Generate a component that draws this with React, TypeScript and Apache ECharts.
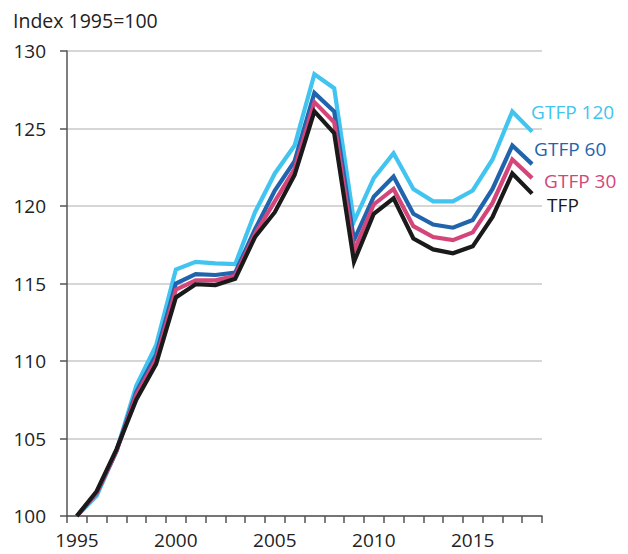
import React, { useEffect, useRef } from "react";
import * as echarts from "echarts";

const years = ["1995","1996","1997","1998","1999","2000","2001","2002","2003","2004","2005","2006","2007","2008","2009","2010","2011","2012","2013","2014","2015","2016","2017","2018"];
const gtfp120 = [100, 101.3, 104.2, 108.4, 111.0, 115.9, 116.4, 116.3, 116.25, 119.6, 122.1, 123.9, 128.5, 127.6, 119.0, 121.8, 123.4, 121.1, 120.3, 120.3, 121.0, 123.0, 126.1, 124.8];
const gtfp60 = [100, 101.5, 104.2, 108.0, 110.4, 115.0, 115.6, 115.55, 115.7, 118.5, 121.0, 122.9, 127.3, 126.1, 117.8, 120.6, 121.9, 119.5, 118.8, 118.6, 119.1, 121.1, 123.9, 122.7];
const gtfp30 = [100, 101.5, 104.2, 107.8, 110.1, 114.6, 115.2, 115.2, 115.5, 118.2, 120.3, 122.4, 126.7, 125.4, 117.1, 120.1, 121.1, 118.7, 118.0, 117.8, 118.3, 120.2, 123.0, 121.8];
const tfp = [100, 101.6, 104.3, 107.5, 109.8, 114.1, 114.95, 114.9, 115.3, 118.0, 119.6, 122.0, 126.1, 124.7, 116.4, 119.5, 120.5, 117.9, 117.2, 116.95, 117.4, 119.3, 122.1, 120.8];
const yTicks = { min: 100, max: 130, interval: 5 };

const FONT = "Open Sans";

function mkSeries(name: string, data: number[], color: string, offset: number[]) {
  return {
    name,
    type: "line",
    data,
    symbol: "none",
    lineStyle: { color, width: 4.2, join: "miter" },
    itemStyle: { color },
    endLabel: {
      show: true,
      formatter: name,
      color,
      fontFamily: FONT,
      fontSize: 19,
      distance: 0,
      offset,
      align: "left",
    },
  };
}

export default function App() {
  const ref = useRef<HTMLDivElement>(null);
  useEffect(() => {
    if (!ref.current) return;
    const chart = echarts.init(ref.current, null, { renderer: "svg" });
    chart.setOption({
      animation: false,
      backgroundColor: "#ffffff",
      graphic: [
        {
          type: "text",
          left: 13,
          top: 10,
          style: { text: "Index 1995=100", fontFamily: FONT, fontSize: 19.5, fill: "#222" },
        },
      ],
      grid: { left: 67, right: 86, top: 51, bottom: 38 },
      xAxis: {
        type: "category",
        data: years,
        boundaryGap: true,
        axisLine: { show: true, lineStyle: { color: "#555", width: 1.5 } },
        axisTick: { show: true, interval: 0, length: 7, lineStyle: { color: "#555", width: 1.5 } },
        axisLabel: { interval: 4, fontFamily: FONT, fontSize: 19, color: "#222", margin: 14 },
        splitLine: { show: false },
      },
      yAxis: {
        type: "value",
        min: yTicks.min,
        max: yTicks.max,
        interval: yTicks.interval,
        axisLine: { show: true, lineStyle: { color: "#555", width: 1.5 } },
        axisTick: { show: true, length: 7, lineStyle: { color: "#555", width: 1.5 } },
        axisLabel: { fontFamily: FONT, fontSize: 19, color: "#222", margin: 21 },
        splitLine: { show: true, lineStyle: { color: "#c8c8c8", width: 1.5 } },
      },
      series: [
        mkSeries("GTFP 120", gtfp120, "#41c4f0", [-1, -20]),
        mkSeries("GTFP 60", gtfp60, "#1f64ad", [2, -15]),
        mkSeries("GTFP 30", gtfp30, "#d4457a", [12, 3]),
        mkSeries("TFP", tfp, "#1a1a1a", [15, 11]),
      ],
    });
    return () => chart.dispose();
  }, []);
  return <div ref={ref} style={{ width: 628, height: 554, position: "absolute", left: 0, top: 0 }} />;
}
